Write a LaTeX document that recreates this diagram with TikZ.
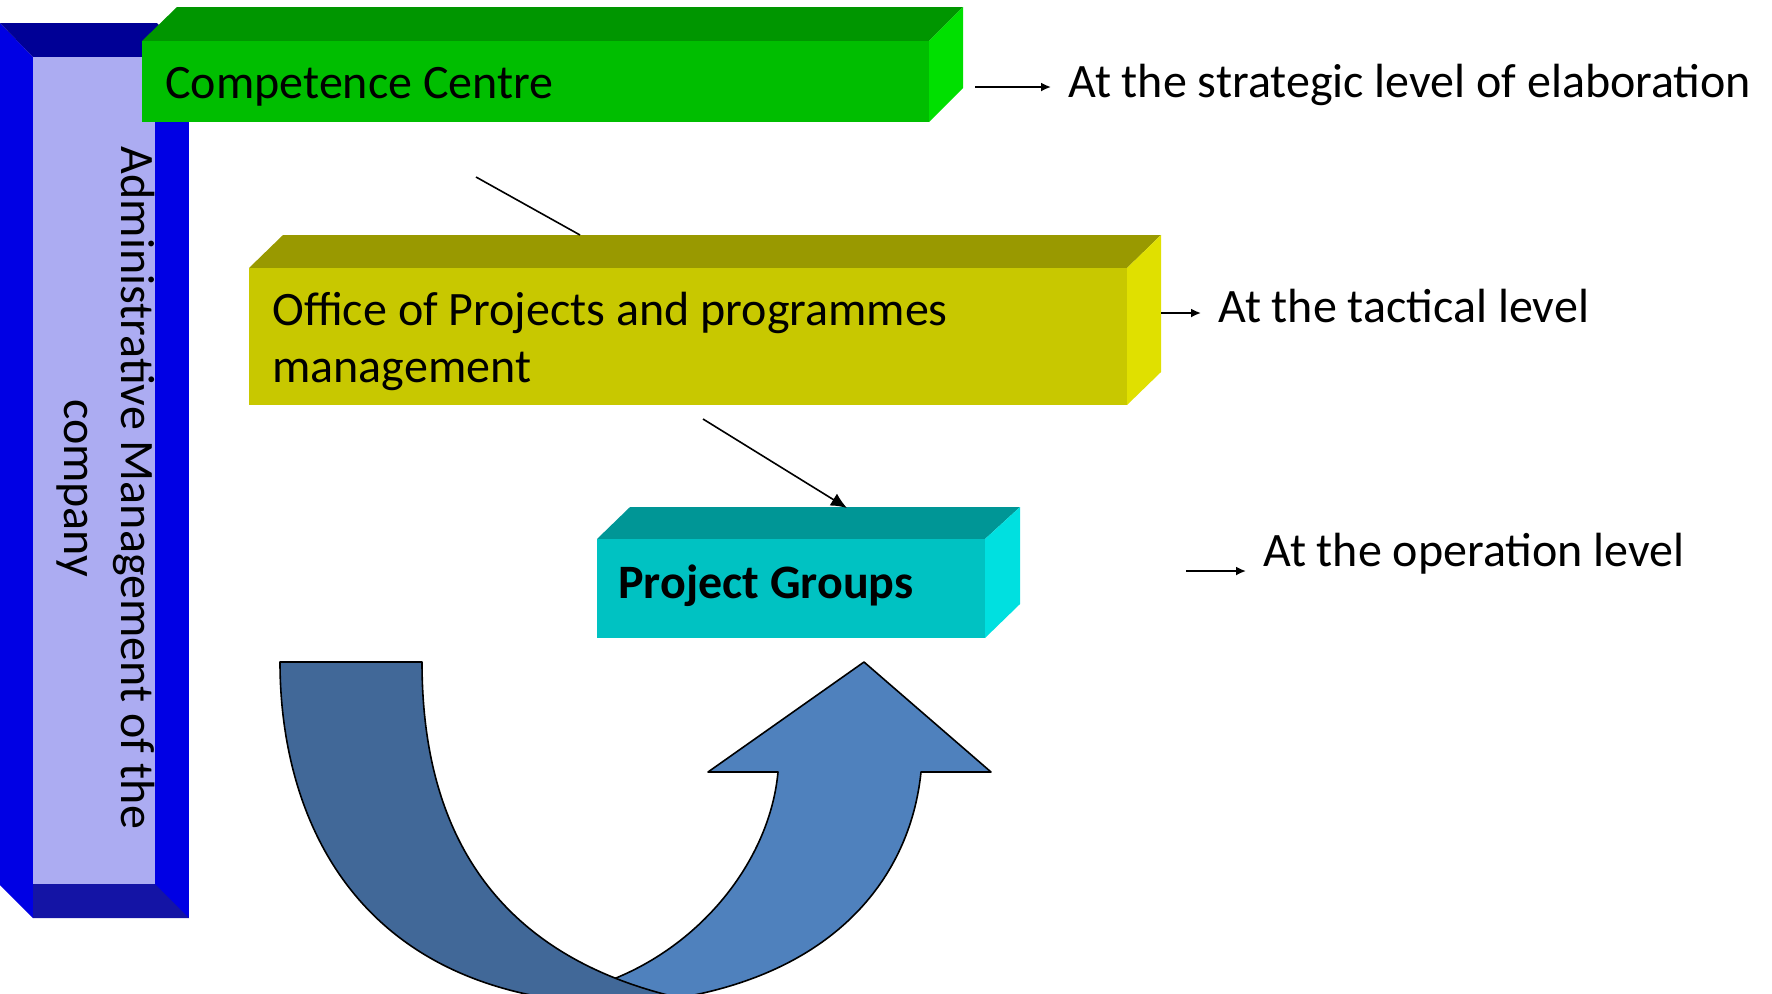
\documentclass[tikz,border=0pt]{standalone}
\usepackage{fontspec}
\setmainfont{Carlito}
\usetikzlibrary{arrows.meta}
\definecolor{gfront}{RGB}{0,190,0}
\definecolor{gtop}{RGB}{0,150,0}
\definecolor{gside}{RGB}{0,224,0}
\definecolor{yfront}{RGB}{200,200,0}
\definecolor{ytop}{RGB}{153,153,0}
\definecolor{yside}{RGB}{224,224,0}
\definecolor{cfront}{RGB}{0,194,194}
\definecolor{ctop}{RGB}{0,150,150}
\definecolor{cside}{RGB}{0,224,224}
\definecolor{bside}{RGB}{0,0,228}
\definecolor{btop}{RGB}{0,0,150}
\definecolor{bpanel}{RGB}{172,172,242}
\definecolor{bbottom}{RGB}{20,20,165}
\definecolor{udark}{RGB}{65,104,152}
\definecolor{ulight}{RGB}{79,129,189}
\begin{document}
\begin{tikzpicture}[x=0.5pt,y=-0.5pt,
  boxtext/.style={font=\fontsize{24}{28.5}\selectfont, text=black, inner sep=0pt},
  lbltext/.style={font=\fontsize{24}{28.5}\selectfont, text=black, inner xsep=8.5pt, inner ysep=0pt},
  lblarrow/.style={-{Latex[length=5pt,width=4.5pt]}, line width=0.9pt},
  conn/.style={line width=0.8pt},
  ribbon/.style={draw=black, line width=0.8pt, line join=round}]
\useasboundingbox (0,0) rectangle (1772,993);

% --- blue vertical box
\fill[bside] (0,23) -- (33,57) -- (33,918) -- (0,885) -- cycle;
\fill[btop] (0,23) -- (157,23) -- (189,57) -- (33,57) -- cycle;
\fill[bside] (33,57) rectangle (189,918);
\fill[bpanel] (33,57) rectangle (155,884);
\fill[bbottom] (33,884) -- (155,884) -- (189,918) -- (33,918) -- cycle;
\node[boxtext, rotate=-90, align=center] (adm) at (106,488) {Administrative Management of the\\company};

% --- green box
\fill[gtop] (142,41) -- (177,7) -- (963,7) -- (929,41) -- cycle;
\fill[gside] (929,41) -- (963,7) -- (963,88) -- (929,122) -- cycle;
\fill[gfront] (142,41) rectangle (929,122);
\node[boxtext, anchor=base west] (cc) at (165,98) {Competence Centre};

% --- yellow box
\fill[ytop] (249,268) -- (283,235) -- (1161,235) -- (1127,268) -- cycle;
\fill[yside] (1127,268) -- (1161,235) -- (1161,372) -- (1127,405) -- cycle;
\fill[yfront] (249,268) rectangle (1127,405);
\node[boxtext, anchor=base west, align=left] (opp) at (272,382) {Office of Projects and programmes\\management};

% --- cyan box
\fill[ctop] (597,539) -- (630,507) -- (1020,507) -- (985,539) -- cycle;
\fill[cside] (985,539) -- (1020,507) -- (1020,604) -- (985,638) -- cycle;
\fill[cfront] (597,539) rectangle (985,638);
\node[boxtext, anchor=base west, font=\fontsize{24}{28.5}\selectfont\bfseries] (pg) at (618,598) {Project Groups};

% --- connectors between levels
\coordinate (c1) at (476,177);
\coordinate (ytopedge) at (580,235);
\draw[conn] (c1) -- (ytopedge);
\coordinate (c2) at (703,419);
\coordinate (ctopedge) at (847,508);
\draw[conn, -{Latex[length=8pt,width=7pt]}] (c2) -- (ctopedge);

% --- level labels
\node[lbltext, anchor=base west] (l1) at (1051,97) {At the strategic level of elaboration};
\coordinate (a1) at (975,87);
\draw[lblarrow] (a1) -- (a1 -| l1.west);
\node[lbltext, anchor=base west] (l2) at (1201,322) {At the tactical level};
\coordinate (a2) at (1161,313);
\draw[lblarrow] (a2) -- (a2 -| l2.west);
\node[lbltext, anchor=base west] (l3) at (1246,566) {At the operation level};
\coordinate (a3) at (1186,571);
\draw[lblarrow] (a3) -- (a3 -| l3.west);

% --- curved arrow
\begin{scope}
\clip (0,0) rectangle (1772,993);
\filldraw[ribbon, fill=ulight] (708,772) -- (864,662) -- (991,772) -- (921,772)
  .. controls (910,880) and (830,985) .. (640,1003)
  -- (600,1003) -- (600,984)
  .. controls (700,950) and (770,860) .. (778,772)
  -- cycle;
\filldraw[ribbon, fill=udark] (280,662) -- (422,662)
  .. controls (422,800) and (470,950) .. (680,998)
  -- (680,1040) -- (560,1040) -- (560,1000)
  .. controls (340,970) and (280,800) .. (280,662)
  -- cycle;
\end{scope}
\end{tikzpicture}
\end{document}
